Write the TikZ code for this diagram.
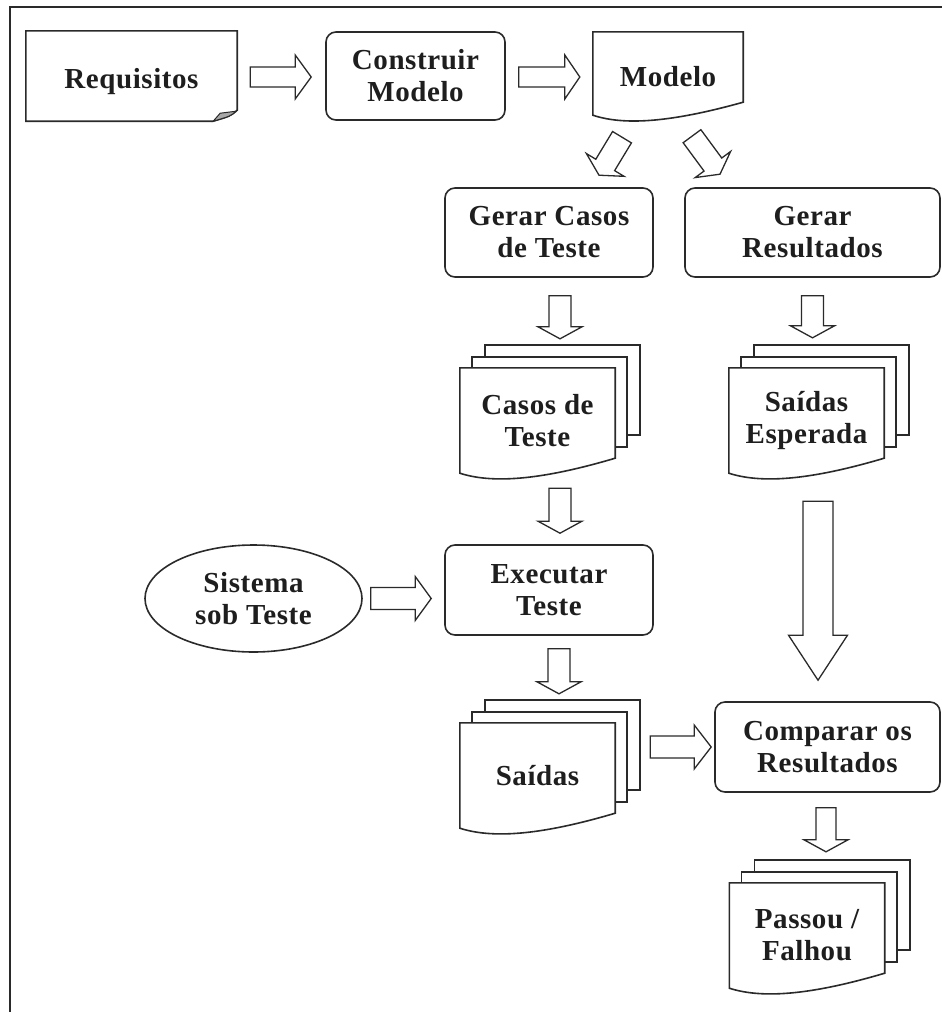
\documentclass[tikz,border=0pt]{standalone}
\usepackage{fontspec}
\setmainfont{Liberation Serif}[LetterSpace=2]
\usetikzlibrary{calc,shapes.geometric}
\pgfdeclarelayer{background}
\pgfsetlayers{background,main}

\definecolor{ink}{HTML}{2A2A2A}
\definecolor{txt}{HTML}{1E1E1E}
\definecolor{foldgray}{HTML}{A8A8A8}

\tikzset{
  outline/.style={draw=ink, line width=1.6pt, line join=miter},
  lbl/.style={font=\bfseries\fontsize{29}{32}\selectfont, text=txt, align=center, inner sep=0pt},
  procbox/.style={lbl, outline, rounded corners=10pt, minimum width=#1, minimum height=89pt},
  docarea/.style={lbl, minimum width=155pt, minimum height=105pt},
  blk/.style={draw=ink, line width=1.3pt, fill=white, line join=miter},
}

% hollow block arrow: tail, tip, half shaft width, half head width, head length
\newcommand\blockarrow[5]{%
  \coordinate (ba-t) at #1;
  \coordinate (ba-h) at #2;
  \coordinate (ba-b) at ($(ba-h)!#5!(ba-t)$);
  \draw[blk] ($(ba-t)!#3!90:(ba-h)$) -- ($(ba-b)!#3!90:(ba-h)$)
    -- ($(ba-b)!#4!90:(ba-h)$) -- (ba-h) -- ($(ba-b)!#4!-90:(ba-h)$)
    -- ($(ba-b)!#3!-90:(ba-h)$) -- ($(ba-t)!#3!-90:(ba-h)$) -- cycle;}

% document outline with a wavy bottom edge; #2 = rise of the right corner
\newcommand\docfront[2]{%
  \draw[outline, fill=white] (#1.north west) -- (#1.north east) -- ($(#1.south east)+(0,-#2)$)
    .. controls ($(#1.south west)!0.5!(#1.south east)+(0,8)$)
       and ($(#1.south west)!0.2!(#1.south east)+(0,10)$) .. (#1.south west) -- cycle;}

% stack of three documents behind a label node
\newcommand\docstack[1]{%
  \begin{pgfonlayer}{background}
    \draw[outline, fill=white] ($(#1.north west)+(25,-23)$) rectangle ($(#1.south east)+(25,-38)$);
    \draw[outline, fill=white] ($(#1.north west)+(12,-11)$) rectangle ($(#1.south east)+(12,-26)$);
    \docfront{#1}{15}
  \end{pgfonlayer}}

\begin{document}
\begin{tikzpicture}[x=1pt, y=-1pt]
\useasboundingbox (0,0) rectangle (942,1012);

% page frame
\draw[draw=ink, line width=2.4pt] (10,1012) -- (10,7) -- (942,7);

% top row
\node[lbl, minimum width=211pt, minimum height=90pt] (req) at (131.5,76) {\raisebox{-12pt}[0pt][0pt]{Requisitos}};
\draw[outline] (req.north west) -- (req.north east) -- ($(req.south east)+(0,-11)$)
  .. controls ($(req.south east)+(-7,-5)$) .. ($(req.south east)+(-24,0)$) -- (req.south west) -- cycle;
\draw[draw=ink, line width=1pt, fill=foldgray] ($(req.south east)+(-24,0)$) -- ($(req.south east)+(-17,-8)$)
  -- ($(req.south east)+(-1,-10)$) .. controls ($(req.south east)+(-7,-5)$) .. cycle;

\node[procbox=179pt, minimum height=88pt] (cm) at (415.5,76) {Construir\\Modelo};

\node[lbl, minimum width=150pt, minimum height=83pt] (mod) at (668,73.5) {\raisebox{-12.5pt}[0pt][0pt]{Modelo}};
\begin{pgfonlayer}{background}\docfront{mod}{13}\end{pgfonlayer}

% generation steps
\node[procbox=208pt] (gct) at (549,232.5) {Gerar Casos\\de Teste};
\node[procbox=255pt] (gr) at (812.5,232.5) {Gerar\\Resultados};

\node[docarea] (casos) at (537.5,420.5) {Casos de\\Teste};
\docstack{casos}
\node[docarea] (saidaesp) at (806.5,420.5) {Saídas\\Esperada};
\docstack{saidaesp}

% execution
\node[lbl, ellipse, outline, minimum width=217pt, minimum height=107pt] (sis) at (253.5,598.5) {Sistema\\sob Teste};
\node[procbox=208pt, minimum height=90pt] (ex) at (549,590) {Executar\\Teste};

\node[docarea] (saidas) at (537.5,775.5) {Saídas};
\docstack{saidas}

\node[procbox=225pt, minimum height=90pt] (cmp) at (827.5,747) {Comparar os\\Resultados};

\node[docarea] (passou) at (807,935.5) {Passou /\\Falhou};
\docstack{passou}

% connectors
\blockarrow{($(req.east)+(13,1)$)}{($(cm.west)+(-14,1)$)}{10pt}{22pt}{16pt}
\blockarrow{($(cm.east)+(13,1)$)}{($(mod.west |- cm.east)+(-13,1)$)}{10pt}{22pt}{15pt}
\blockarrow{($(mod.south)+(-46,22)$)}{($(gct.north)+(50,-12)$)}{11pt}{22pt}{12pt}
\blockarrow{($(mod.south)+(24,21)$)}{($(gr.north)+(-92.5,-13)$)}{11pt}{22pt}{12pt}
\blockarrow{($(gct.south)+(11,18)$)}{($(gct.south)+(11,61)$)}{11pt}{22pt}{12pt}
\blockarrow{($(gr.south)+(0,18)$)}{($(gr.south)+(0,60)$)}{11pt}{22pt}{12pt}
\blockarrow{($(casos.south)+(22.5,15)$)}{($(casos.south)+(22.5,60)$)}{11pt}{22pt}{12pt}
\blockarrow{($(ex.south)+(10,13)$)}{($(ex.south)+(10,58)$)}{11pt}{22pt}{12pt}
\blockarrow{($(sis.east)+(8,0)$)}{($(ex.west |- sis.east)+(-13,0)$)}{11pt}{22pt}{16pt}
\blockarrow{($(saidas.east |- cmp.west)+(35,0)$)}{($(cmp.west)+(-3,0)$)}{11pt}{22pt}{17pt}
\blockarrow{($(cmp.south)+(-1.5,15)$)}{($(cmp.south)+(-1.5,59)$)}{10pt}{22pt}{12pt}
\blockarrow{($(saidaesp.south)+(11.5,28)$)}{($(saidaesp.south)+(11.5,207)$)}{15pt}{29.5pt}{45pt}
\end{tikzpicture}
\end{document}
